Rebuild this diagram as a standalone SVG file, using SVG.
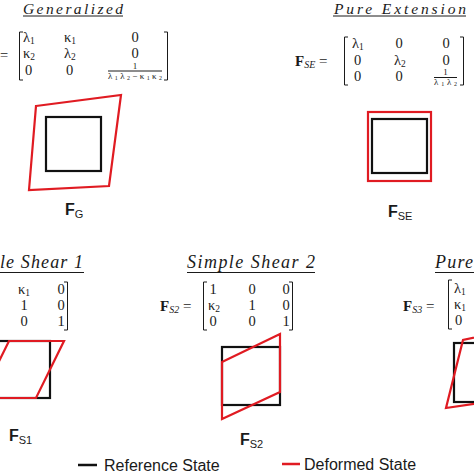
<svg xmlns="http://www.w3.org/2000/svg" width="474" height="474" viewBox="0 0 474 474">
<style>
.m{font-family:"Liberation Serif","DejaVu Serif",serif;font-size:14.5px;fill:#1a1a1a}
.fr{font-family:"Liberation Serif","DejaVu Serif",serif;font-size:9px;fill:#1a1a1a}
.t{font-family:"Liberation Serif","DejaVu Serif",serif;font-style:italic;font-size:18px;fill:#1a1a1a}
.tt{font-family:"Liberation Serif","DejaVu Serif",serif;font-style:italic;font-size:15.5px;fill:#1a1a1a}
.mF{font-family:"Liberation Serif","DejaVu Serif",serif;font-weight:bold;font-size:15px;fill:#1a1a1a}
.lbl{font-family:"Liberation Sans",Arial,sans-serif;font-weight:bold;font-size:16px;fill:#1a1a1a}
.leg{font-family:"Liberation Sans",Arial,sans-serif;font-size:16px;fill:#1a1a1a}
.ul{stroke:#1a1a1a;stroke-width:1;fill:none}
.br{stroke:#1a1a1a;stroke-width:1;fill:none}
.ref{stroke:#111;stroke-width:2.2;fill:none}
.def{stroke:#e01b22;stroke-width:2.2;fill:none;stroke-linejoin:miter}
</style>
<rect width="474" height="474" fill="#fff"/>

<g id="generalized">
<text class="tt" x="23" y="14" textLength="100" lengthAdjust="spacing">Generalized</text>
<line class="ul" x1="23" y1="16" x2="123" y2="16"/>
<text class="m" x="0" y="60">=</text>
<path class="br" d="M23 32H19.5V80H23"/>
<path class="br" d="M164 32H167.5V80H164"/>
<text class="m" x="23" y="42">λ<tspan font-size="9.5" dy="2">1</tspan></text>
<text class="m" x="64" y="42">κ<tspan font-size="9.5" dy="2">1</tspan></text>
<text class="m" x="135" y="42" text-anchor="middle">0</text>
<text class="m" x="23" y="58">κ<tspan font-size="9.5" dy="2">2</tspan></text>
<text class="m" x="64" y="58">λ<tspan font-size="9.5" dy="2">2</tspan></text>
<text class="m" x="135" y="58" text-anchor="middle">0</text>
<text class="m" x="25" y="75">0</text>
<text class="m" x="66" y="75">0</text>
<text class="fr" x="135" y="69" text-anchor="middle">1</text>
<line class="br" x1="108" y1="71" x2="162" y2="71" stroke-width="0.7"/>
<text class="fr" x="108" y="78.5" textLength="54" lengthAdjust="spacing">λ<tspan font-size="6" dy="1">1</tspan><tspan dy="-1">λ</tspan><tspan font-size="6" dy="1">2</tspan><tspan dy="-1">−κ</tspan><tspan font-size="6" dy="1">1</tspan><tspan dy="-1">κ</tspan><tspan font-size="6" dy="1">2</tspan></text>
<path class="def" d="M36 106L121 95L109 186L29 190Z"/>
<rect class="ref" x="46" y="117" width="55" height="54"/>
<text class="lbl" x="65" y="215">F<tspan font-weight="normal" font-size="11" dy="3">G</tspan></text>
</g>

<g id="pure-extension">
<text class="tt" x="334" y="14" textLength="132" lengthAdjust="spacing">Pure Extension</text>
<line class="ul" x1="333" y1="16" x2="466" y2="16"/>
<text class="mF" x="295" y="66">F<tspan font-weight="normal" font-style="italic" font-size="10" dy="2">SE</tspan><tspan font-weight="normal" dy="-2"> =</tspan></text>
<path class="br" d="M348 37H344.5V85H348"/>
<path class="br" d="M460 37H463.5V85H460"/>
<text class="m" x="352" y="48">λ<tspan font-size="9.5" dy="2">1</tspan></text>
<text class="m" x="399" y="48" text-anchor="middle">0</text>
<text class="m" x="446" y="48" text-anchor="middle">0</text>
<text class="m" x="354" y="65">0</text>
<text class="m" x="394" y="65">λ<tspan font-size="9.5" dy="2">2</tspan></text>
<text class="m" x="446" y="65" text-anchor="middle">0</text>
<text class="m" x="354" y="81">0</text>
<text class="m" x="399" y="81" text-anchor="middle">0</text>
<text class="fr" x="445.5" y="75" text-anchor="middle">1</text>
<line class="br" x1="434" y1="77.5" x2="457" y2="77.5" stroke-width="0.7"/>
<text class="fr" x="434" y="85" textLength="23" lengthAdjust="spacing">λ<tspan font-size="6" dy="1">1</tspan><tspan dy="-1">λ</tspan><tspan font-size="6" dy="1">2</tspan></text>
<rect class="def" x="368" y="112" width="63" height="69"/>
<rect class="ref" x="372" y="119" width="55" height="54"/>
<text class="lbl" x="388" y="217">F<tspan font-weight="normal" font-size="11" dy="3">SE</tspan></text>
</g>

<g id="simple-shear-1">
<text class="t" x="0" y="268" textLength="83" lengthAdjust="spacing">le Shear 1</text>
<line class="ul" x1="0" y1="272.5" x2="84" y2="272.5"/>
<path class="br" d="M64 282H67.5V330H64"/>
<text class="m" x="18" y="294">κ<tspan font-size="9.5" dy="2">1</tspan></text>
<text class="m" x="61" y="294" text-anchor="middle">0</text>
<text class="m" x="24" y="310" text-anchor="middle">1</text>
<text class="m" x="61" y="310" text-anchor="middle">0</text>
<text class="m" x="24" y="326" text-anchor="middle">0</text>
<text class="m" x="61" y="326" text-anchor="middle">1</text>
<rect class="ref" x="-5" y="341" width="55" height="57"/>
<path class="def" d="M9 341H64L36 398H-19Z"/>
<text class="lbl" x="9" y="441">F<tspan font-weight="normal" font-size="11" dy="3">S1</tspan></text>
</g>

<g id="simple-shear-2">
<text class="t" x="187" y="268" textLength="128" lengthAdjust="spacing">Simple Shear 2</text>
<line class="ul" x1="187" y1="272.5" x2="315" y2="272.5"/>
<text class="mF" x="160" y="311">F<tspan font-weight="normal" font-style="italic" font-size="10" dy="2">S2</tspan><tspan font-weight="normal" dy="-2"> =</tspan></text>
<path class="br" d="M207 282H203.5V330H207"/>
<path class="br" d="M289 282H292.5V330H289"/>
<text class="m" x="213" y="294" text-anchor="middle">1</text>
<text class="m" x="252" y="294" text-anchor="middle">0</text>
<text class="m" x="286" y="294" text-anchor="middle">0</text>
<text class="m" x="208" y="310">κ<tspan font-size="9.5" dy="2">2</tspan></text>
<text class="m" x="252" y="310" text-anchor="middle">1</text>
<text class="m" x="286" y="310" text-anchor="middle">0</text>
<text class="m" x="213" y="326" text-anchor="middle">0</text>
<text class="m" x="252" y="326" text-anchor="middle">0</text>
<text class="m" x="286" y="326" text-anchor="middle">1</text>
<rect class="ref" x="222" y="347" width="58" height="58"/>
<path class="def" d="M222 362L280 334V392L222 419Z"/>
<text class="lbl" x="240" y="445">F<tspan font-weight="normal" font-size="11" dy="3">S2</tspan></text>
</g>

<g id="pure-shear">
<text class="t" x="435" y="268" textLength="38" lengthAdjust="spacing">Pure</text>
<line class="ul" x1="435" y1="272.5" x2="474" y2="272.5"/>
<text class="mF" x="403" y="311">F<tspan font-weight="normal" font-style="italic" font-size="10" dy="2">S3</tspan><tspan font-weight="normal" dy="-2"> =</tspan></text>
<path class="br" d="M452 280H448.5V329H452"/>
<text class="m" x="454" y="293">λ<tspan font-size="9.5" dy="2">1</tspan></text>
<text class="m" x="454" y="309">κ<tspan font-size="9.5" dy="2">1</tspan></text>
<text class="m" x="455" y="325">0</text>
<rect class="ref" x="454" y="343" width="55" height="59"/>
<path class="def" d="M500 332L463 340L446 408L500 400"/>
</g>

<g id="legend">
<line x1="78" y1="465" x2="97" y2="465" stroke="#111" stroke-width="2.5"/>
<text class="leg" x="104" y="471">Reference State</text>
<line x1="282" y1="464" x2="300" y2="464" stroke="#e01b22" stroke-width="2.5"/>
<text class="leg" x="304" y="470">Deformed State</text>
</g>
</svg>
